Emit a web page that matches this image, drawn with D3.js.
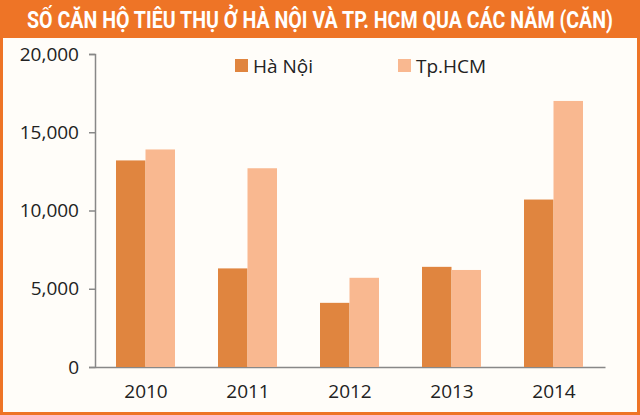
<!DOCTYPE html>
<html><head><meta charset="utf-8">
<script src="https://cdn.jsdelivr.net/npm/d3@7"></script>
<style>body{margin:0;background:#fff}</style>
</head><body><div class="canva"></div>
<script>
const years = ['2010', '2011', '2012', '2013', '2014']
const haNoi = [13200, 6300, 4100, 6400, 10700]
const hcm = [13900, 12700, 5700, 6200, 17000]
const seriesNames = ['Hà Nội', 'Tp.HCM']
const yTicks = [0, 5000, 10000, 15000, 20000]

const W = 640, H = 415
const svg = d3.select('.canva').append('svg').attr('width', W).attr('height', H)

// frame + header
svg.append('rect').attr('x', 1.5).attr('y', 1.5).attr('width', W - 3).attr('height', H - 3)
   .attr('fill', '#fffdf9').attr('stroke', '#ee7426').attr('stroke-width', 3)
svg.append('rect').attr('x', 0).attr('y', 0).attr('width', W).attr('height', 38).attr('fill', '#ee7426')
svg.append('text').attr('x', W / 2).attr('y', 28).attr('text-anchor', 'middle')
   .attr('fill', '#fff').attr('font-family', '"Liberation Sans Narrow", "Roboto", sans-serif')
   .attr('font-weight', 'bold').attr('font-size', 23)
   .attr('textLength', 586).attr('lengthAdjust', 'spacingAndGlyphs')
   .text('SỐ CĂN HỘ TIÊU THỤ Ở HÀ NỘI VÀ TP. HCM QUA CÁC NĂM (CĂN)')

const pLeft = 95, pRight = 605, pTop = 54, pBottom = 367
const x = d3.scaleBand().domain(years).range([pLeft, pRight])
const x1 = d3.scaleBand().domain(seriesNames).range([0, 59]).padding(0)
const y = d3.scaleLinear().domain([0, 20000]).range([pBottom, pTop])

const font = '"Open Sans", "Noto Sans", sans-serif'
const yAxis = svg.append('g').attr('transform', `translate(${pLeft},0)`)
  .call(d3.axisLeft(y).tickValues(yTicks).tickSize(6).tickPadding(10))
yAxis.selectAll('text').attr('font-size', 19).attr('font-family', font).attr('fill', '#222')
yAxis.selectAll('line,path').attr('stroke', '#888').attr('stroke-width', 1.5)

const xAxis = svg.append('g').attr('transform', `translate(0,${pBottom})`)
  .call(d3.axisBottom(x).tickSize(0).tickPadding(18))
xAxis.selectAll('text').attr('font-size', 19).attr('font-family', font).attr('fill', '#222')
xAxis.select('path').attr('stroke', '#888').attr('stroke-width', 1.5)

const colors = ['#e0853f', '#f9b890']
const data = years.map((yr, i) => ({ yr, vals: [haNoi[i], hcm[i]] }))
svg.selectAll('g.grp').data(data).enter().append('g')
  .attr('transform', d => `translate(${x(d.yr) + x.bandwidth() / 2 - 30},0)`)
  .selectAll('rect').data(d => d.vals.map((v, j) => ({ v, j })))
  .enter().append('rect')
  .attr('x', d => x1(seriesNames[d.j]))
  .attr('width', x1.bandwidth())
  .attr('y', d => y(d.v))
  .attr('height', d => pBottom - y(d.v))
  .attr('fill', d => colors[d.j])

// legend
const lx = [235, 398]
seriesNames.forEach((n, i) => {
  svg.append('rect').attr('x', lx[i]).attr('y', 59).attr('width', 13).attr('height', 13).attr('fill', colors[i])
  svg.append('text').attr('x', lx[i] + 18).attr('y', 73).attr('font-size', 19)
     .attr('font-family', font).attr('fill', '#222').text(n)
})
</script></body></html>
